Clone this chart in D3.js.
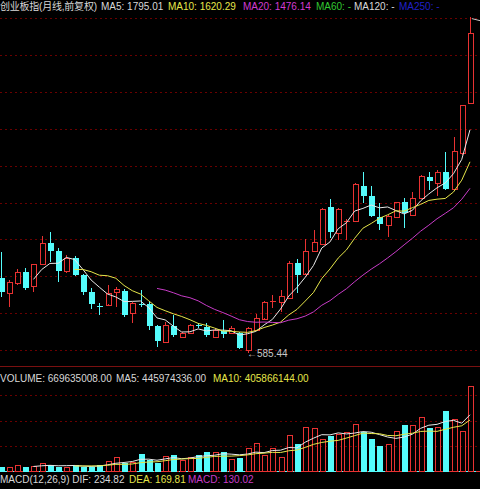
<!DOCTYPE html>
<html><head><meta charset="utf-8">
<script src="https://cdn.jsdelivr.net/npm/d3@7/dist/d3.min.js"></script>
<style>
html,body{margin:0;padding:0;background:#000;overflow:hidden}
svg{display:block}
text{font-family:"Liberation Sans",Arial,"Noto Sans CJK SC",sans-serif;font-size:10px}
</style></head><body>
<svg id="c" width="480" height="489"></svg>
<script>
// monthly candles (price), index 0..57
const opens  = [991,911,965,1025,944,1067,1179,1139,1025,1098,1007,913,840,848,915,922,799,852,848,732,645,730,672,694,733,726,672,703,692,691,600,708,772,860,862,881,1070,1016,1134,1174,1374,1237,1295,1300,1490,1436,1324,1278,1320,1402,1333,1423,1540,1508,1568,1472,1668,1942];
const highs  = [1132,980,1038,1047,1066,1219,1240,1152,1116,1112,1010,935,853,953,940,929,862,926,862,735,754,790,699,740,745,748,718,763,730,699,725,795,865,898,926,1085,1092,1201,1251,1368,1420,1368,1309,1508,1568,1490,1396,1330,1404,1423,1459,1547,1568,1577,1676,1758,1932,2409];
const lows   = [888,832,953,926,916,1060,1079,971,1020,1003,898,821,790,846,835,781,745,835,708,618,640,672,669,690,718,672,668,663,690,604,585.44,705,768,826,808,878,908,1012,1130,1170,1206,1197,1197,1296,1399,1323,1251,1212,1316,1260,1330,1420,1468,1436,1468,1466,1660,1935];
const closes = [915,971,1025,940,1065,1182,1137,1030,1098,1007,916,848,836,911,929,790,853,847,730,650,736,681,691,736,728,681,708,687,719,609,718,772,862,867,893,1070,1007,1139,1185,1365,1237,1365,1302,1501,1437,1329,1288,1327,1402,1345,1427,1544,1517,1568,1477,1680,1930,2322];
// volume in millions
const volumes = [38,33,51,33,43,64,51,33,38,51,38,38,51,85,111,69,77,137,90,69,122,130,90,116,130,151,151,151,98,104,182,226,130,182,116,287,214,352,339,253,279,292,312,373,312,253,200,216,318,365,365,430,339,352,477,410,318,669.635008];
const priceGrid = [600,800,1000,1200,1400,1600,1800,2000,2200,2400];
const volGrid = [200,400,600];
const maPeriods = [5,10,20];
const maColors = ["#e8e8e8","#e6e64a","#c83cc8"];
const volMaPeriods = [5,10];
const lowLabel = "585.44";

const UP = "#e83232", DOWN = "#54fcfc", GRID = "#6a0000";
const svg = d3.select("#c");
svg.append("rect").attr("width",480).attr("height",489).attr("fill","#000");

const n = closes.length;
const x = d3.scaleLinear().domain([0, n-1]).range([0.5, 470]);
const y = d3.scaleLinear().domain([600, 2400]).range([350, 18.3]);
const yv = d3.scaleLinear().domain([0, 600]).range([471.5, 395.07]);

function ma(arr, p){
  return arr.map((d,i)=> i < p-1 ? null : d3.mean(arr.slice(i-p+1, i+1)));
}

// grids
svg.append("g").selectAll("line").data(priceGrid).join("line")
  .attr("x1",0).attr("x2",480)
  .attr("y1",d=>Math.round(y(d))+0.5).attr("y2",d=>Math.round(y(d))+0.5)
  .attr("stroke",GRID).attr("stroke-dasharray","2,3");
svg.append("g").selectAll("line").data(volGrid).join("line")
  .attr("x1",0).attr("x2",480)
  .attr("y1",d=>Math.round(yv(d))+0.5).attr("y2",d=>Math.round(yv(d))+0.5)
  .attr("stroke",GRID).attr("stroke-dasharray","2,3");

// separators
svg.append("line").attr("x1",0).attr("x2",480).attr("y1",366.5).attr("y2",366.5).attr("stroke","#7a1010");
svg.append("line").attr("x1",0).attr("x2",480).attr("y1",471.5).attr("y2",471.5).attr("stroke",UP).attr("stroke-dasharray","4,3");
svg.append("line").attr("x1",4).attr("x2",480).attr("y1",471.5).attr("y2",471.5).attr("stroke",DOWN).attr("stroke-dasharray","3,4");

// candles
const idx = d3.range(n);
const cg = svg.append("g").attr("shape-rendering","crispEdges");
idx.forEach(i=>{
  const cx = Math.round(x(i));
  const o = opens[i], c = closes[i], h = highs[i], l = lows[i];
  const up = c >= o;
  const col = up ? UP : DOWN;
  const top = y(Math.max(o,c)), bot = y(Math.min(o,c));
  const g = cg.append("g");
  if (up) {
    g.append("line").attr("x1",cx+0.5).attr("x2",cx+0.5).attr("y1",y(h)).attr("y2",top).attr("stroke",col);
    g.append("line").attr("x1",cx+0.5).attr("x2",cx+0.5).attr("y1",bot).attr("y2",y(l)).attr("stroke",col);
    if (bot - top < 1.5) {
      g.append("line").attr("x1",cx-2.5).attr("x2",cx+3.5).attr("y1",Math.round(top)+0.5).attr("y2",Math.round(top)+0.5).attr("stroke",col);
    } else {
      g.append("rect").attr("x",cx-2).attr("y",Math.round(top)+0.5).attr("width",5).attr("height",Math.max(1,Math.round(bot-top)))
        .attr("fill","none").attr("stroke",col);
    }
  } else {
    g.append("line").attr("x1",cx+0.5).attr("x2",cx+0.5).attr("y1",y(h)).attr("y2",y(l)).attr("stroke",col);
    if (bot - top < 1.5) {
      g.append("line").attr("x1",cx-2.5).attr("x2",cx+3.5).attr("y1",Math.round(top)+0.5).attr("y2",Math.round(top)+0.5).attr("stroke",col);
    } else {
      g.append("rect").attr("x",cx-2.5).attr("y",Math.round(top)).attr("width",6).attr("height",Math.round(bot-top)).attr("fill",col);
    }
  }
});

// MA lines
maPeriods.forEach((p,k)=>{
  const m = ma(closes,p);
  svg.append("path").datum(m)
    .attr("d", d3.line().defined(d=>d!==null).x((d,i)=>x(i)).y(d=>y(d)))
    .attr("fill","none").attr("stroke",maColors[k]).attr("stroke-width",1);
});

// low label
const li = lows.indexOf(d3.min(lows));
svg.append("text").attr("x",Math.round(x(li))-1).attr("y",y(d3.min(lows))+4)
  .attr("fill","#c8c8c8").text("\u2190"+lowLabel);
// high marker
const hi = highs.indexOf(d3.max(highs));
svg.append("line").attr("x1",x(hi)+2).attr("x2",480).attr("y1",y(d3.max(highs))+2).attr("y2",y(d3.max(highs))+4).attr("stroke","#c8c8c8");

// volume bars
const vg = svg.append("g").attr("shape-rendering","crispEdges");
idx.forEach(i=>{
  const cx = Math.round(x(i));
  const up = closes[i] >= opens[i];
  const t = Math.round(yv(volumes[i]));
  if (up) vg.append("rect").attr("x",cx-2).attr("y",t+0.5).attr("width",5).attr("height",471-t).attr("fill","none").attr("stroke",UP);
  else vg.append("rect").attr("x",cx-2.5).attr("y",t).attr("width",6).attr("height",471.5-t).attr("fill",DOWN);
});
volMaPeriods.forEach((p,k)=>{
  const m = ma(volumes,p);
  svg.append("path").datum(m)
    .attr("d", d3.line().defined(d=>d!==null).x((d,i)=>x(i)).y(d=>yv(d)))
    .attr("fill","none").attr("stroke",maColors[k]).attr("stroke-width",1);
});

// header texts
const head = svg.append("g");
head.append("text").attr("x",0).attr("y",10).attr("fill","#d8d8d8").attr("textLength",97).text("创业板指(月线,前复权)");
head.append("text").attr("x",101).attr("y",10).attr("fill","#d8d8d8").text("MA5: 1795.01");
head.append("text").attr("x",168).attr("y",10).attr("fill","#e6e64a").text("MA10: 1620.29");
head.append("text").attr("x",243).attr("y",10).attr("fill","#d23cd2").text("MA20: 1476.14");
head.append("text").attr("x",316).attr("y",10).attr("fill","#32c832").attr("xml:space","preserve").text("MA60:\u00a0-");
head.append("text").attr("x",354).attr("y",10).attr("fill","#d8d8d8").text("MA120:\u00a0-");
head.append("text").attr("x",399).attr("y",10).attr("fill","#2020c8").text("MA250:\u00a0-");

svg.append("text").attr("x",0).attr("y",381.5).attr("fill","#d8d8d8").text("VOLUME: 669635008.00");
svg.append("text").attr("x",116).attr("y",381.5).attr("fill","#d8d8d8").text("MA5: 445974336.00");
svg.append("text").attr("x",213).attr("y",381.5).attr("fill","#e6e64a").text("MA10: 405866144.00");

svg.append("text").attr("x",0).attr("y",483).attr("fill","#d8d8d8").text("MACD(12,26,9) DIF: 234.82");
svg.append("text").attr("x",129).attr("y",483).attr("fill","#e6e64a").text("DEA: 169.81");
svg.append("text").attr("x",188).attr("y",483).attr("fill","#c83cc8").text("MACD: 130.02");
</script>
</body></html>
